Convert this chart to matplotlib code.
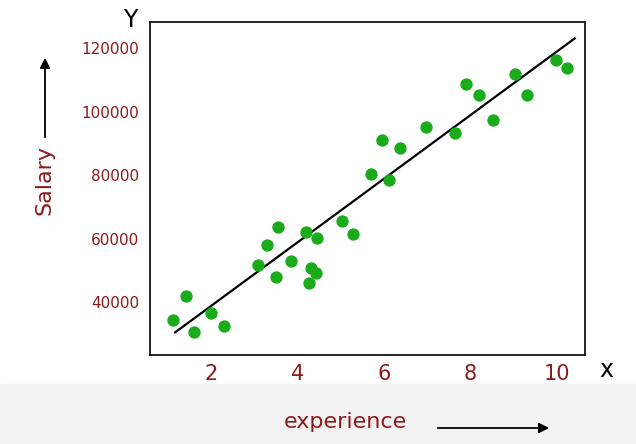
import matplotlib
matplotlib.use("Agg")
import matplotlib.pyplot as plt

experience = [1.12, 1.42, 1.61, 2.0, 2.3, 3.09, 3.29, 3.55, 3.5, 3.85, 4.19, 4.31, 4.26, 4.42, 4.45,
              5.03, 5.28, 5.70, 5.95, 6.11, 6.36, 6.97, 7.64, 7.89, 8.19, 8.51, 9.04, 9.30, 9.97, 10.22]
salary = [34300, 41900, 30500, 36500, 32400, 51600, 58000, 63600, 47900, 52900, 62000, 50700, 46000,
          49100, 60100, 65500, 61400, 80300, 91000, 78400, 88500, 95100, 93200, 108700, 105200, 97300,
          111800, 105200, 116200, 113700]
fit_x = [1.17, 10.41]
fit_y = [30500, 123100]
xticks = [2, 4, 6, 8, 10]
yticks = [40000, 60000, 80000, 100000, 120000]

red = "#8b1a1a"
fig = plt.figure(figsize=(6.36, 4.44), dpi=100)
fig.patches.append(plt.Rectangle((0, 0), 1, 0.135, transform=fig.transFigure,
                                 color="#f2f2f2", zorder=-1))
ax = fig.add_axes([0.236, 0.2, 0.684, 0.75])
ax.scatter(experience, salary, s=62, color="#1aab1a", zorder=3)
ax.plot(fit_x, fit_y, color="black", lw=1.6)
ax.set_xlim(0.59, 10.65)
ax.set_ylim(23300, 128200)
ax.set_xticks(xticks)
ax.set_yticks(yticks)
ax.tick_params(axis="x", labelsize=15, colors=red, labelcolor=red, length=0, pad=6)
ax.tick_params(axis="y", labelsize=11, colors=red, labelcolor=red, length=0, pad=8)
ax.tick_params(color="black")
for sp in ax.spines.values():
    sp.set_linewidth(1.2)

fig.text(130 / 636, 1 - 20 / 444, "Y", fontsize=17, ha="center", va="center")
fig.text(606 / 636, 1 - 370 / 444, "x", fontsize=17, ha="center", va="center")
fig.text(45 / 636, 1 - 180 / 444, "Salary", fontsize=16, color=red, rotation=90,
         ha="center", va="center")
fig.text(345 / 636, 1 - 422 / 444, "experience", fontsize=16, color=red, ha="center", va="center")
fig.add_artist(matplotlib.patches.FancyArrowPatch(
    (45 / 636, 1 - 140 / 444), (45 / 636, 1 - 55 / 444), transform=fig.transFigure,
    arrowstyle="-|>", mutation_scale=15, color="black", lw=1.3))
fig.add_artist(matplotlib.patches.FancyArrowPatch(
    (435 / 636, 1 - 428 / 444), (552 / 636, 1 - 428 / 444), transform=fig.transFigure,
    arrowstyle="-|>", mutation_scale=15, color="black", lw=1.3))
fig.savefig("out.png", dpi=100)
